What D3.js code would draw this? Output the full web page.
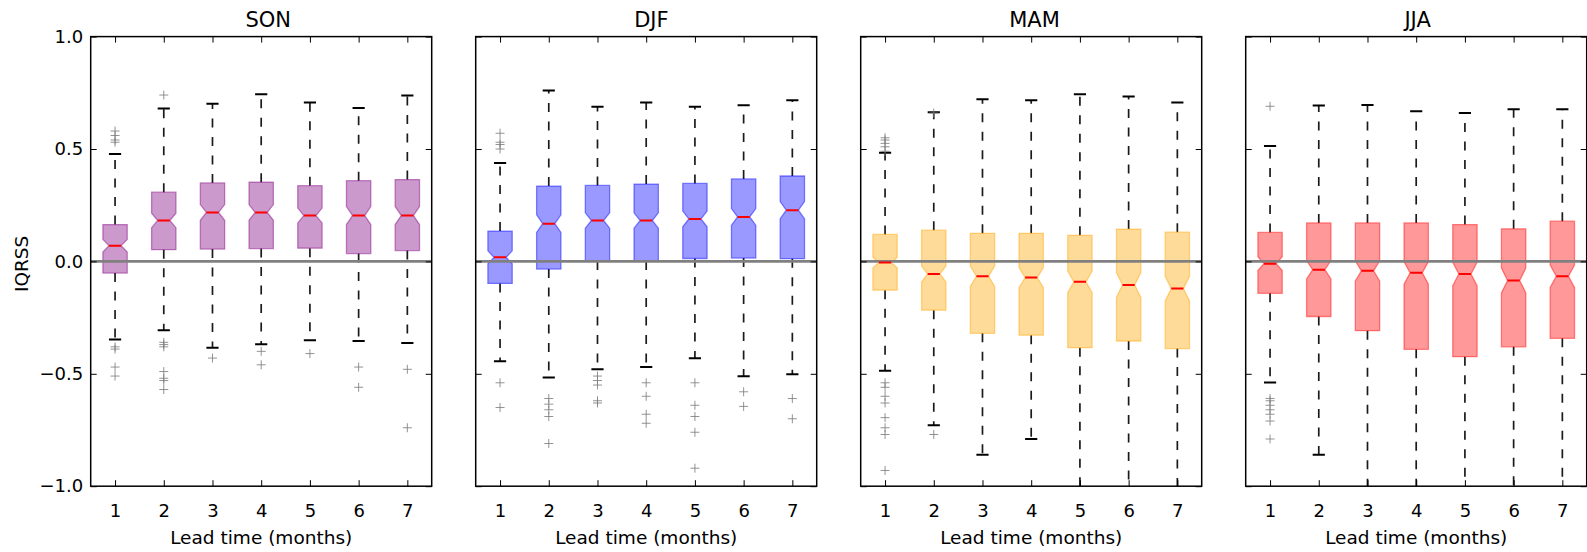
<!DOCTYPE html>
<html>
<head>
<meta charset="utf-8">
<script src="https://cdn.jsdelivr.net/npm/d3@7"></script>
<style>
  body { margin: 0; background: #fff; }
  svg { display: block; font-family: "DejaVu Sans", sans-serif; }
</style>
</head>
<body>
<svg id="chart" width="1587" height="552"></svg>
<script>
// Seasons shown as panels, lead times on the x axis
const seasons = ["SON", "DJF", "MAM", "JJA"];
const leadTimes = [1, 2, 3, 4, 5, 6, 7];
const yTicks = [-1, -0.5, 0, 0.5, 1];
const seasonColors = ["#800080", "#0000ff", "#ffa500", "#ff0000"];

// Box statistics per season (rows) and lead time (columns)
const whiskerHigh = [
  [0.478, 0.680, 0.701, 0.743, 0.707, 0.682, 0.738],
  [0.438, 0.760, 0.688, 0.707, 0.688, 0.695, 0.717],
  [0.483, 0.664, 0.721, 0.717, 0.743, 0.734, 0.707],
  [0.513, 0.693, 0.696, 0.668, 0.660, 0.677, 0.677]
];
const q3 = [
  [0.164, 0.308, 0.349, 0.352, 0.337, 0.359, 0.364],
  [0.135, 0.335, 0.338, 0.344, 0.347, 0.367, 0.380],
  [0.120, 0.139, 0.125, 0.125, 0.116, 0.144, 0.130],
  [0.129, 0.171, 0.171, 0.171, 0.164, 0.145, 0.179]
];
const median = [
  [0.070, 0.182, 0.218, 0.218, 0.204, 0.204, 0.204],
  [0.018, 0.168, 0.182, 0.182, 0.189, 0.198, 0.228],
  [-0.005, -0.056, -0.066, -0.072, -0.091, -0.105, -0.121],
  [-0.010, -0.037, -0.042, -0.051, -0.056, -0.085, -0.066]
];
const q1 = [
  [-0.052, 0.052, 0.055, 0.057, 0.059, 0.035, 0.048],
  [-0.098, -0.034, 0.002, 0.002, 0.013, 0.015, 0.012],
  [-0.128, -0.217, -0.320, -0.328, -0.384, -0.354, -0.388],
  [-0.142, -0.245, -0.308, -0.391, -0.424, -0.380, -0.342]
];
const whiskerLow = [
  [-0.347, -0.306, -0.384, -0.369, -0.351, -0.354, -0.363],
  [-0.444, -0.516, -0.480, -0.470, -0.431, -0.511, -0.502],
  [-0.486, -0.729, -0.860, -0.790, -1.06, -1.06, -1.06],
  [-0.539, -0.860, -1.06, -1.06, -1.06, -1.06, -1.06]
];
// Half height of the notch around each median
const notchHalf = [
  [0.028, 0.032, 0.035, 0.035, 0.033, 0.040, 0.040],
  [0.029, 0.039, 0.034, 0.034, 0.035, 0.037, 0.038],
  [0.023, 0.035, 0.045, 0.045, 0.048, 0.055, 0.055],
  [0.031, 0.041, 0.045, 0.050, 0.052, 0.055, 0.050]
];
const outliers = [
  [[0.58, 0.56, 0.54, 0.53, -0.38, -0.39, -0.47, -0.51],
   [0.74, -0.36, -0.37, -0.38, -0.49, -0.52, -0.53, -0.57],
   [-0.43], [-0.40, -0.46], [-0.41], [-0.47, -0.56], [-0.48, -0.74]],
  [[0.57, 0.53, 0.52, 0.50, -0.54, -0.65],
   [-0.61, -0.635, -0.66, -0.69, -0.81],
   [-0.51, -0.53, -0.55, -0.62, -0.63],
   [-0.54, -0.60, -0.68, -0.72],
   [-0.54, -0.64, -0.69, -0.76, -0.92],
   [-0.58, -0.645], [-0.61, -0.70]],
  [[0.55, 0.54, 0.525, 0.51, 0.49, -0.54, -0.56, -0.60, -0.63, -0.695, -0.74, -0.77, -0.93],
   [0.66, -0.77], [], [], [], [], []],
  [[0.69, -0.61, -0.62, -0.64, -0.66, -0.68, -0.71, -0.79],
   [], [], [], [], [], []]
];

// Layout
const panelLeft0 = 90.7, panelStep = 385, panelW = 341;
const panelTop = 36.6, panelH = 449.6;
const titleX0 = 268.3, titleStep = 383.1;
const boxWidth = 0.5, capWidth = 0.25, tickLen = 6;

const svg = d3.select("#chart");
const x = d3.scaleLinear().domain([0.5, 7.5]).range([0, panelW]);
const y = d3.scaleLinear().domain([-1, 1]).range([panelH, 0]);
const fmt = d3.format(".1f");

seasons.forEach((season, s) => {
  const left = panelLeft0 + s * panelStep;
  const g = svg.append("g").attr("transform", `translate(${left},${panelTop})`);

  g.append("clipPath").attr("id", "clip" + s)
    .append("rect").attr("width", panelW).attr("height", panelH);

  const plot = g.append("g").attr("clip-path", `url(#clip${s})`);
  const color = seasonColors[s];

  leadTimes.forEach((lt, i) => {
    const cx = x(lt);
    const hw = x(lt + boxWidth / 2) - x(lt);
    const qw = hw / 2;
    const cw = x(lt + capWidth / 2) - x(lt);

    // dashed whiskers with end caps
    [[q3[s][i], whiskerHigh[s][i]], [q1[s][i], whiskerLow[s][i]]].forEach(([a, b]) => {
      plot.append("line")
        .attr("x1", cx).attr("x2", cx)
        .attr("y1", y(a)).attr("y2", y(b))
        .attr("stroke", "#1a1a1a").attr("stroke-width", 1.7)
        .attr("stroke-dasharray", "9,9.5");
      plot.append("line")
        .attr("x1", cx - cw).attr("x2", cx + cw)
        .attr("y1", y(b)).attr("y2", y(b))
        .attr("stroke", "#000").attr("stroke-width", 2);
    });

    // notched box
    const m = median[s][i], n = notchHalf[s][i];
    const pts = [
      [cx - hw, y(q1[s][i])], [cx + hw, y(q1[s][i])],
      [cx + hw, y(m - n)], [cx + qw, y(m)], [cx + hw, y(m + n)],
      [cx + hw, y(q3[s][i])], [cx - hw, y(q3[s][i])],
      [cx - hw, y(m + n)], [cx - qw, y(m)], [cx - hw, y(m - n)]
    ];
    plot.append("path")
      .attr("d", d3.line()(pts) + "Z")
      .attr("fill", color).attr("fill-opacity", 0.4)
      .attr("stroke", color).attr("stroke-opacity", 0.45).attr("stroke-width", 1.3);

    // outlier crosses
    outliers[s][i].forEach(v => {
      plot.append("path")
        .attr("d", `M${cx - 4.5},${y(v)}H${cx + 4.5}M${cx},${y(v) - 4.5}V${y(v) + 4.5}`)
        .attr("stroke", "#808080").attr("stroke-opacity", 0.85).attr("stroke-width", 1);
    });
  });

  // zero reference line
  plot.append("line")
    .attr("x1", 0).attr("x2", panelW)
    .attr("y1", y(0)).attr("y2", y(0))
    .attr("stroke", "#808080").attr("stroke-width", 2.8);

  // medians
  leadTimes.forEach((lt, i) => {
    const cx = x(lt);
    const qw = (x(lt + boxWidth / 2) - x(lt)) / 2;
    plot.append("line")
      .attr("x1", cx - qw).attr("x2", cx + qw)
      .attr("y1", y(median[s][i])).attr("y2", y(median[s][i]))
      .attr("stroke", "#ff0000").attr("stroke-width", 2);
  });

  // axes with inward ticks on all four sides
  const axB = g.append("g").attr("transform", `translate(0,${panelH})`)
    .call(d3.axisBottom(x).tickValues(leadTimes).tickSize(-tickLen).tickPadding(18)
      .tickFormat(d3.format("d")));
  const axT = g.append("g")
    .call(d3.axisTop(x).tickValues(leadTimes).tickSize(-tickLen).tickFormat(""));
  const axL = g.append("g")
    .call(d3.axisLeft(y).tickValues(yTicks).tickSize(-tickLen).tickPadding(7.5)
      .tickFormat(s === 0 ? fmt : ""));
  const axR = g.append("g").attr("transform", `translate(${panelW},0)`)
    .call(d3.axisRight(y).tickValues(yTicks).tickSize(-tickLen).tickFormat(""));
  [axB, axT, axL, axR].forEach(a => {
    a.select(".domain").remove();
    a.selectAll(".tick line").attr("stroke", "#000").attr("stroke-width", 1);
    a.selectAll(".tick text").attr("font-size", "18px")
      .attr("font-family", "DejaVu Sans, sans-serif").attr("fill", "#000");
  });

  // frame
  g.append("rect").attr("width", panelW).attr("height", panelH)
    .attr("fill", "none").attr("stroke", "#000").attr("stroke-width", 1.5);

  // x label
  g.append("text").attr("x", panelW / 2).attr("y", 544.5 - panelTop)
    .attr("text-anchor", "middle").attr("font-size", "18.5px").text("Lead time (months)");

  // panel title
  svg.append("text").attr("x", titleX0 + s * titleStep).attr("y", 27)
    .attr("text-anchor", "middle").attr("font-size", "21px").text(season);
});

// y label
svg.append("text")
  .attr("transform", `translate(28,${panelTop + panelH / 2 + 2.5}) rotate(-90)`)
  .attr("text-anchor", "middle").attr("font-size", "18.5px").text("IQRSS");
</script>
</body>
</html>
